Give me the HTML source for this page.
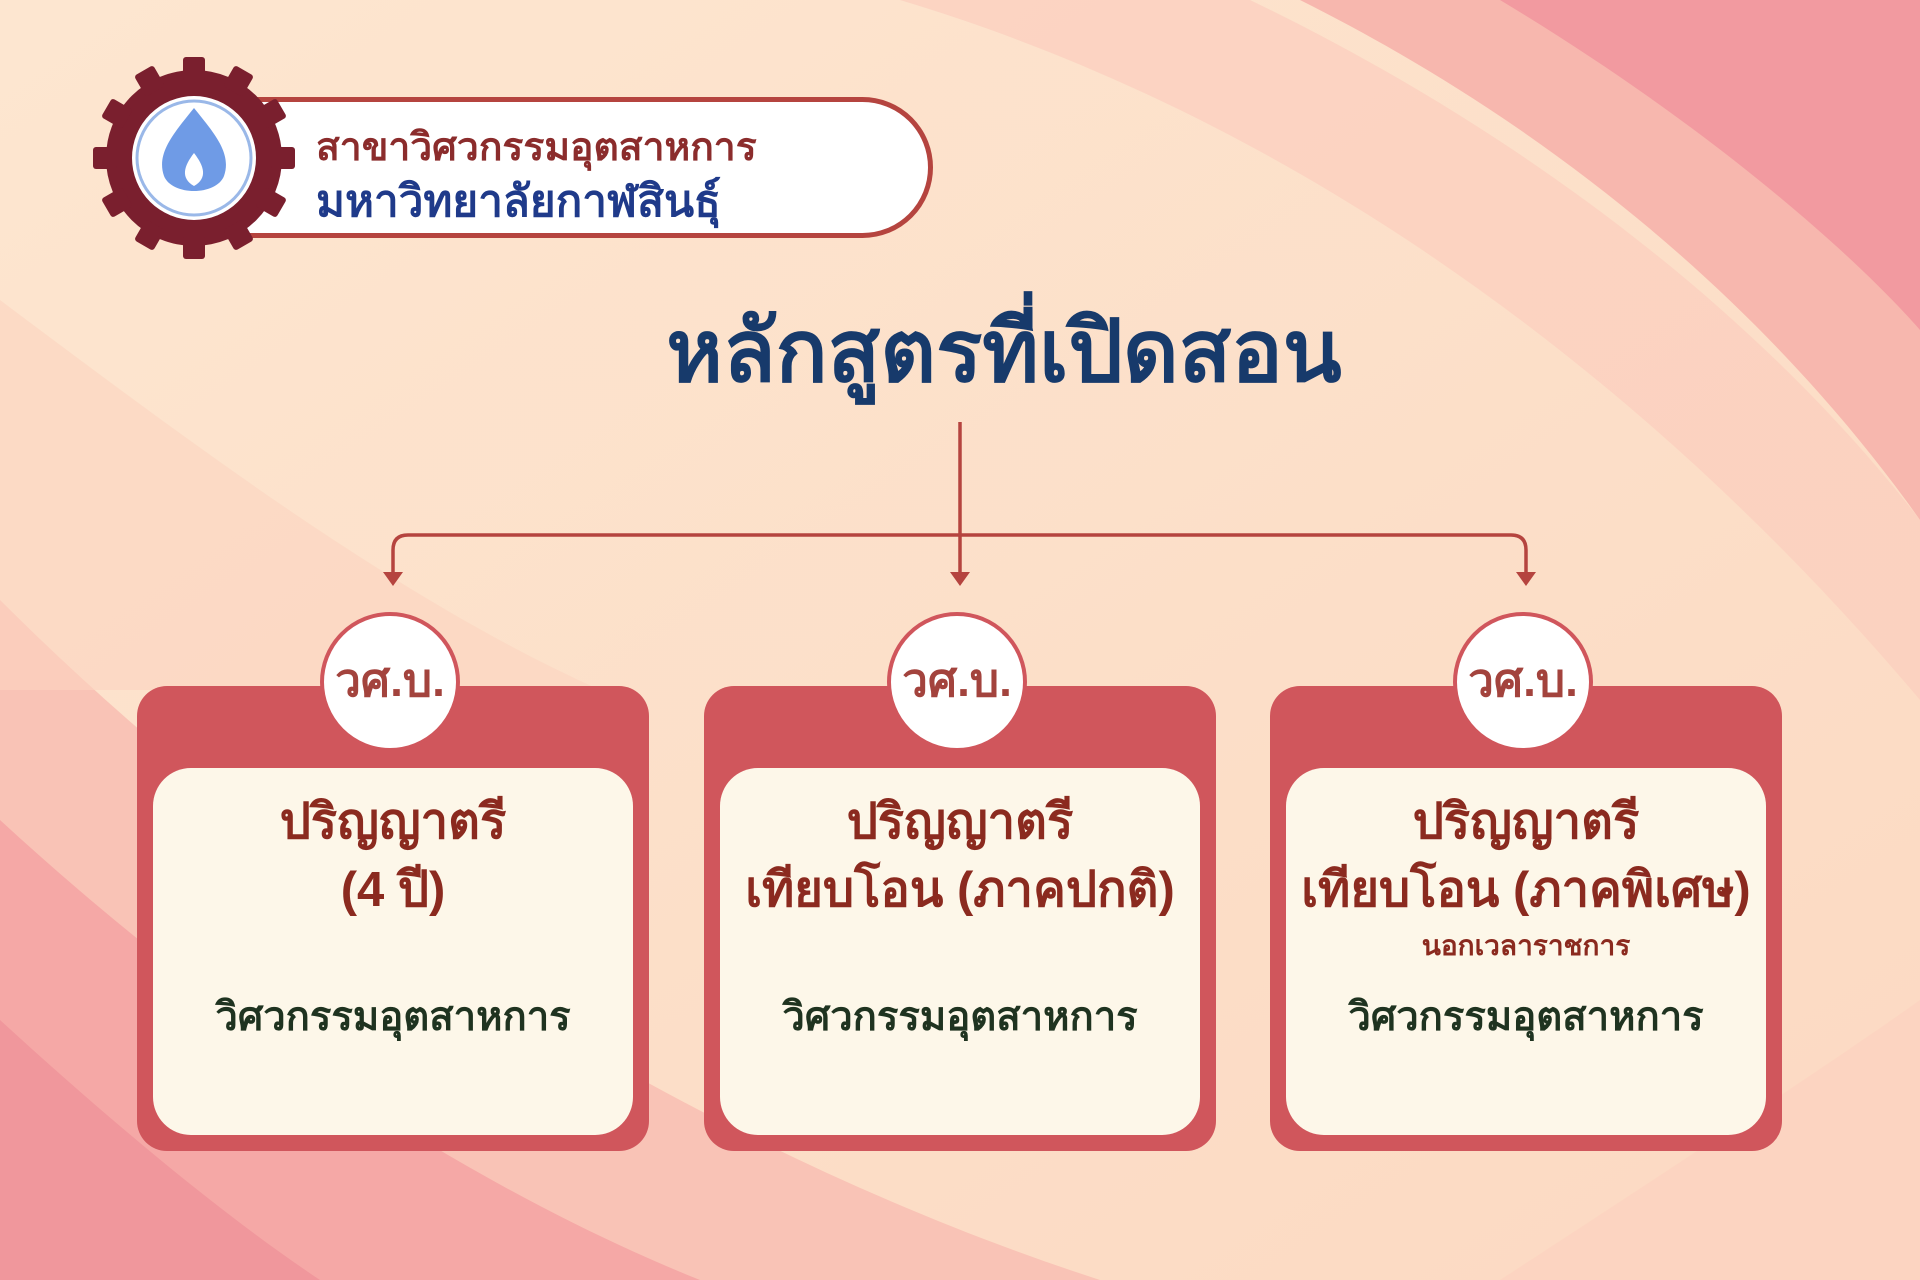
<!DOCTYPE html>
<html><head><meta charset="utf-8"><style>
html,body{margin:0;padding:0}
body{width:1920px;height:1280px;position:relative;overflow:hidden;font-family:"Liberation Sans",sans-serif;background:#fde2cc}
.abs{position:absolute}
.card{position:absolute;top:686px;width:512px;height:465px;background:#d0565c;border-radius:30px}
.inner{position:absolute;left:16px;top:82px;width:480px;height:367px;background:#fdf7e9;border-radius:38px}
.circ{position:absolute;left:183px;top:-74px;width:140px;height:140px;border-radius:50%;background:#fff;border:4px solid #d0565c;box-sizing:border-box;text-align:center;line-height:128px;font-size:46px;font-weight:bold;color:#a3433d}
.t{position:absolute;left:0;width:100%;text-align:center;font-weight:bold;color:#8b2a1f;font-size:49px}
.g{color:#1f3320;font-size:40px}
</style></head><body>
<svg class="abs" style="left:0;top:0" width="1920" height="1280" viewBox="0 0 1920 1280">
<defs>
<linearGradient id="bg" x1="0" y1="0" x2="1" y2="1"><stop offset="0" stop-color="#fde6d0"/><stop offset="1" stop-color="#fcd9c2"/></linearGradient>
</defs>
<rect width="1920" height="1280" fill="url(#bg)"/>
<path d="M1300 0 C1600 150 1800 350 1920 520 L1920 0Z" fill="#f7b7ae"/>
<path d="M1500 0 C1700 120 1850 250 1920 330 L1920 0Z" fill="#f29aa0"/>
<path d="M900 0 C1300 120 1650 380 1920 700 L1920 520 C1750 300 1500 120 1250 0Z" fill="#fbcdbd" opacity="0.7"/>
<path d="M0 600 C300 900 700 1150 1100 1280 L0 1280Z" fill="#f9c3b6"/>
<path d="M0 820 C250 1050 500 1200 700 1280 L0 1280Z" fill="#f5a8a6"/>
<path d="M0 1020 C120 1130 230 1220 320 1280 L0 1280Z" fill="#f0979c"/>
<path d="M0 300 C200 450 400 600 600 690 L0 690Z" fill="#fcd3c0" opacity="0.6"/>
<path d="M1500 1280 C1700 1150 1850 1050 1920 1000 L1920 1280Z" fill="#fbd0c0" opacity="0.6"/>
<g stroke="#b5443f" stroke-width="3.5" fill="none">
<line x1="960" y1="422" x2="960" y2="575"/>
<path d="M393 575 L393 550 Q393 535 408 535 L1511 535 Q1526 535 1526 550 L1526 575"/>
</g>
<g fill="#b5443f">
<path d="M383 572 L403 572 L393 586Z"/><path d="M950 572 L970 572 L960 586Z"/><path d="M1516 572 L1536 572 L1526 586Z"/>
</g>
</svg>
<div class="abs" style="left:230px;top:97px;width:703px;height:141px;background:#fff;border:5px solid #b5443f;border-radius:0 75px 75px 0;box-sizing:border-box"></div>
<div class="abs" style="left:316px;top:116px;font-size:39px;font-weight:bold;color:#8b2c2c;white-space:nowrap">สาขาวิศวกรรมอุตสาหการ</div>
<div class="abs" style="left:316px;top:166px;font-size:44px;font-weight:bold;color:#1f3a8a;white-space:nowrap">มหาวิทยาลัยกาฬสินธุ์</div>
<svg class="abs" style="left:92px;top:56px" width="204" height="204" viewBox="-102 -102 204 204">
<g fill="#7a1f2e">
<circle r="88"/>
<g id="tt"><rect x="-11" y="-101" width="22" height="24" rx="3"/></g>
<use href="#tt" transform="rotate(30)"/><use href="#tt" transform="rotate(60)"/><use href="#tt" transform="rotate(90)"/><use href="#tt" transform="rotate(120)"/><use href="#tt" transform="rotate(150)"/><use href="#tt" transform="rotate(180)"/><use href="#tt" transform="rotate(210)"/><use href="#tt" transform="rotate(240)"/><use href="#tt" transform="rotate(270)"/><use href="#tt" transform="rotate(300)"/><use href="#tt" transform="rotate(330)"/>
</g>
<circle r="62" fill="#fff"/>
<circle r="57" fill="none" stroke="#9ab8e8" stroke-width="3"/>
<path d="M0 -50 C20 -25 38 -5 30 18 C22 38 -22 38 -30 18 C-38 -5 -20 -25 0 -50Z" fill="#6f9be6"/>
<path d="M0 -5 C10 8 14 20 0 28 C-14 20 -10 8 0 -5Z" fill="#fff"/>
</svg>
<div class="abs" style="left:0;width:2008px;top:282px;text-align:center;font-size:86px;font-weight:bold;color:#173a6b">หลักสูตรที่เปิดสอน</div>
<div class="card" style="left:137px">
 <div class="inner">
  <div class="t" style="top:14px">ปริญญาตรี</div>
  <div class="t" style="top:82px">(4 ปี)</div>
  <div class="t g" style="top:216px">วิศวกรรมอุตสาหการ</div>
 </div>
 <div class="circ">วศ.บ.</div>
</div>
<div class="card" style="left:704px">
 <div class="inner">
  <div class="t" style="top:14px">ปริญญาตรี</div>
  <div class="t" style="top:82px">เทียบโอน (ภาคปกติ)</div>
  <div class="t g" style="top:216px">วิศวกรรมอุตสาหการ</div>
 </div>
 <div class="circ">วศ.บ.</div>
</div>
<div class="card" style="left:1270px">
 <div class="inner">
  <div class="t" style="top:14px">ปริญญาตรี</div>
  <div class="t" style="top:82px">เทียบโอน (ภาคพิเศษ)</div>
  <div class="t" style="top:156px;font-size:28px">นอกเวลาราชการ</div>
  <div class="t g" style="top:216px">วิศวกรรมอุตสาหการ</div>
 </div>
 <div class="circ">วศ.บ.</div>
</div>
</body></html>
